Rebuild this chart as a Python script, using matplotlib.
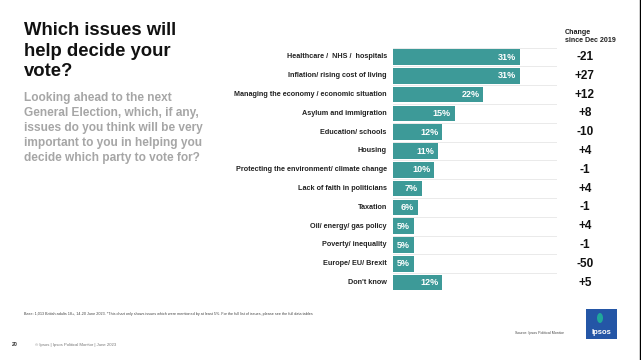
import matplotlib
matplotlib.use("Agg")
import matplotlib.pyplot as plt
from matplotlib.patches import Rectangle, Ellipse

plt.rcParams['font.family'] = ['Liberation Sans', 'DejaVu Sans']

# --------- Data ---------
categories = [
    "Healthcare /  NHS /  hospitals",
    "Inflation/ rising cost of living",
    "Managing the economy / economic situation",
    "Asylum and immigration",
    "Education/ schools",
    "Housing",
    "Protecting the environment/ climate change",
    "Lack of faith in politicians",
    "Taxation",
    "Oil/ energy/ gas policy",
    "Poverty/ inequality",
    "Europe/ EU/ Brexit",
    "Don't know",
]
values = [31, 31, 22, 15, 12, 11, 10, 7, 6, 5, 5, 5, 12]
changes = ["-21", "+27", "+12", "+8", "-10", "+4", "-1", "+4", "-1", "+4", "-1", "-50", "+5"]

W, H = 641, 360
BAR = "#3d9a98"


def fx(x):
    return x / W


def fy(y):
    return 1 - y / H


fig = plt.figure(figsize=(W / 100, H / 100), dpi=100)
fig.patch.set_facecolor("white")

# --------- Bars ---------
ax = fig.add_axes([fx(393), fy(292), 164 / W, 244.4 / H])
rows = list(range(len(categories)))
ax.barh(rows, values, height=0.83, color=BAR, zorder=2)
for y in [r + 0.5 for r in rows[:-1]] + [-0.5]:
    ax.axhline(y, color="#e6e6e6", lw=0.6, zorder=1)
ax.set_xlim(0, 40)
ax.set_ylim(12.5, -0.5)
ax.axis("off")

for r, (cat, v, ch) in enumerate(zip(categories, values, changes)):
    ax.text(-1.5, r, cat, ha="right", va="center", fontsize=5.2,
            fontweight="bold", color="#222222")
    ax.text(v - 0.9, r, f"{v}%", ha="right", va="center", fontsize=6.5,
            fontweight="bold", color="white")
    ax.text(46.8, r, ch, ha="center", va="center", fontsize=8.5,
            fontweight="bold", color="#111111", clip_on=False)

fig.text(fx(565), fy(33), "Change", ha="left", va="center", fontsize=5.1,
         fontweight="bold", color="#222222")
fig.text(fx(565), fy(41), "since Dec 2019", ha="left", va="center", fontsize=5.1,
         fontweight="bold", color="#222222")

# --------- Titles ---------
fig.text(fx(24), fy(22), "Which issues will\nhelp decide your\nvote?", ha="left", va="top",
         fontsize=13.3, fontweight="bold", color="#111111", linespacing=1.28)
fig.text(fx(24), fy(92), "Looking ahead to the next\nGeneral Election, which, if any,\n"
         "issues do you think will be very\nimportant to you in helping you\n"
         "decide which party to vote for?", ha="left", va="top",
         fontsize=8.6, fontweight="bold", color="#a6a6a6", linespacing=1.32)

# --------- Footer ---------
fig.text(fx(24), fy(314), "Base: 1,013 British adults 18+, 14-20 June 2023. *This chart only shows issues "
         "which were mentioned by at least 5%. For the full list of issues, please see the full data tables",
         ha="left", va="center", fontsize=2.7, color="#444444")
fig.text(fx(12), fy(345), "20", ha="left", va="center", fontsize=3.8, fontweight="bold",
         color="#333333")
fig.text(fx(35), fy(345), "\u00a9 Ipsos | Ipsos Political Monitor | June 2023", ha="left",
         va="center", fontsize=3.05, color="#777777")
fig.text(fx(515), fy(333), "Source: Ipsos Political Monitor", ha="left", va="center",
         fontsize=2.65, color="#444444")

# logo
fig.patches.append(Rectangle((fx(586), fy(339)), 31 / W, 30 / H, transform=fig.transFigure,
                             facecolor="#2456a6", edgecolor="none"))
fig.patches.append(Ellipse((fx(600), fy(318)), 6 / W, 10 / H, transform=fig.transFigure,
                           facecolor="#1fa89a", edgecolor="none"))
fig.text(fx(601.5), fy(332), "Ipsos", ha="center", va="center", fontsize=5.5,
         fontweight="bold", color="white")

# right border
fig.add_artist(plt.Line2D([fx(639.5), fx(639.5)], [0, 1], transform=fig.transFigure,
                          color="black", lw=1))

fig.savefig("out.png", dpi=100)
